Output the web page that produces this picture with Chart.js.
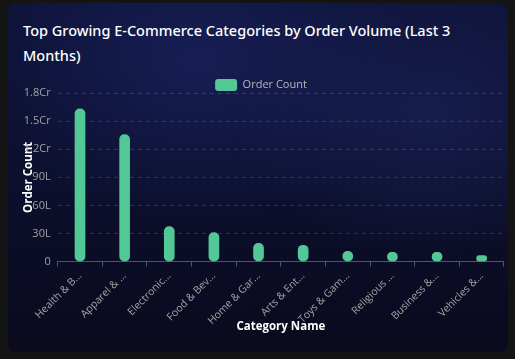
<!DOCTYPE html>
<html>
<head>
<meta charset="utf-8">
<script src="https://cdn.jsdelivr.net/npm/chart.js@4.4.1/dist/chart.umd.min.js"></script>
<style>
  html, body { margin: 0; padding: 0; background: #141414; }
  body { width: 515px; height: 359px; overflow: hidden; position: relative; }
  .card {
    position: absolute; left: 8px; top: 3px; width: 500px; height: 349px;
    border-radius: 8px;
    background:
      radial-gradient(ellipse 220px 160px at 190px 60px, rgba(30,40,110,0.55), rgba(30,40,110,0) 100%),
      radial-gradient(ellipse 200px 140px at 420px 110px, rgba(35,45,110,0.45), rgba(35,45,110,0) 100%),
      linear-gradient(180deg, #0e1338 0%, #0c0f2c 55%, #0a0a1e 100%);
  }
  h3 {
    position: absolute; left: 15px; top: 15px; width: 460px; margin: 0;
    font-family: "Noto Sans", sans-serif; font-weight: 500; font-size: 14.5px;
    line-height: 25px; color: #ffffff;
  }
  .chart-box { position: absolute; left: 10px; top: 71px; width: 486px; height: 264px; }
</style>
</head>
<body>
<div class="card">
  <h3>Top Growing E-Commerce Categories by Order Volume (Last 3 Months)</h3>
  <div class="chart-box"><canvas id="chart_orders"></canvas></div>
</div>
<script>
var categories = [
  'Health & Beauty', 'Apparel & Accessories', 'Electronics', 'Food & Beverages',
  'Home & Garden', 'Arts & Entertainment', 'Toys & Games', 'Religious & Ceremonial',
  'Business & Industrial', 'Vehicles & Parts'
];
var order_counts = [16300000, 13550000, 3750000, 3100000, 1950000, 1750000, 1100000, 1000000, 1000000, 650000];
var y_ticks = [0, 3000000, 6000000, 9000000, 12000000, 15000000, 18000000];

var bar_color = '#52c896';
var tick_color = '#a3a3a3';

function short_label(label) {
  return label.length > 10 ? label.substring(0, 10) + '...' : label;
}

function indian_units(v) {
  if (v >= 10000000) return Math.round(v / 1000000) / 10 + 'Cr';
  if (v >= 100000) return Math.round(v / 100000) + 'L';
  return v;
}

var ctx = document.getElementById('chart_orders').getContext('2d');

var chart = new Chart(ctx, {
  type: 'bar',
  data: {
    labels: categories,
    datasets: [{
      label: 'Order Count',
      backgroundColor: bar_color,
      borderColor: bar_color,
      borderWidth: 0,
      borderRadius: 20,
      borderSkipped: false,
      barThickness: 10,
      data: order_counts
    }]
  },
  options: {
    responsive: true,
    maintainAspectRatio: false,
    animation: false,
    plugins: {
      legend: {
        maxHeight: 19,
        labels: {
          color: '#b8b8b8',
          font: { family: 'Open Sans', size: 11 },
          boxWidth: 22,
          boxHeight: 12,
          padding: 5,
          useBorderRadius: true,
          borderRadius: 3
        }
      },
      tooltip: { enabled: false }
    },
    scales: {
      x: {
        grid: { display: true, drawOnChartArea: false, color: '#555555', tickLength: 5 },
        border: { color: '#555555' },
        ticks: {
          color: tick_color,
          font: { family: 'Open Sans', size: 10.5 },
          maxRotation: 45,
          minRotation: 45,
          callback: function (value) { return short_label(this.getLabelForValue(value)); }
        },
        title: {
          display: true,
          text: 'Category Name',
          color: '#ffffff',
          font: { family: 'Open Sans', size: 11.5, weight: 'bold' },
          padding: { top: -10, bottom: 4 }
        }
      },
      y: {
        min: 0,
        max: y_ticks[y_ticks.length - 1],
        afterBuildTicks: function (axis) {
          axis.ticks = y_ticks.map(function (v) { return { value: v }; });
        },
        afterFit: function (axis) { axis.paddingTop = 0; },
        grid: { color: 'rgba(255,255,255,0.14)', drawTicks: false },
        border: { display: false, dash: [4, 4] },
        ticks: {
          color: tick_color,
          font: { family: 'Open Sans', size: 11 },
          padding: 7,
          callback: function (value) { return indian_units(value); }
        },
        title: {
          display: true,
          text: 'Order Count',
          color: '#ffffff',
          font: { family: 'Open Sans', size: 11.5, weight: 'bold' },
          padding: { top: 4, bottom: -19 }
        }
      }
    }
  }
});
</script>
</body>
</html>
